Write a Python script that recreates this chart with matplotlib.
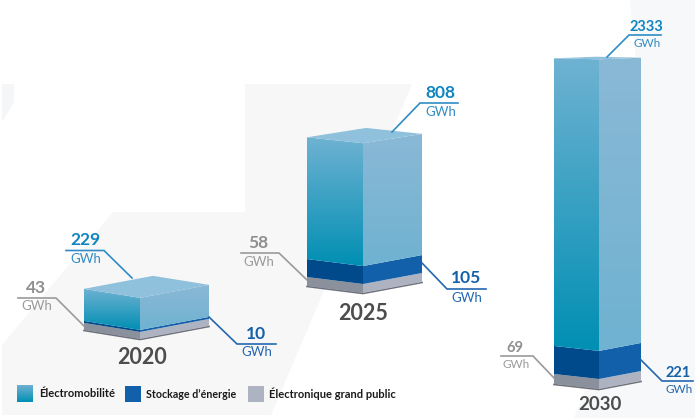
import numpy as np
import matplotlib
matplotlib.use("Agg")
import matplotlib.pyplot as plt
from matplotlib.colors import LinearSegmentedColormap
from matplotlib.patches import Polygon

plt.rcParams['font.family'] = ['Lato', 'DejaVu Sans']

years = ['2020', '2025', '2030']
electro = [229, 808, 2333]
stockage = [10, 105, 221]
grand_public = [43, 58, 69]
unit = 'GWh'
legend_labels = ['Électromobilité', 'Stockage d’énergie', 'Électronique grand public']

# the blocks are not to one scale in the source, px per GWh by year
px_electro = [0.14, 0.152, 0.125]
px_stockage = [0.2, 0.171, 0.127]
px_grand = [0.165, 0.155, 0.145]

# bottom corners of each block: left, front, right (x, y in pixels)
corners = [
    [(84, 330), (140, 339), (209, 326)],
    [(307, 286), (363, 293), (422, 282)],
    [(554, 384), (599, 389), (641, 381)],
]
# the top face flattens as the block gets taller
top_squash = [1.0, 0.85, 0.2]

c_electro = '#0f86c0'
c_stock = '#1560a8'
c_grey = '#8f8f8f'

fig = plt.figure(figsize=(6.95, 4.18), dpi=100)
ax = fig.add_axes([0, 0, 1, 1])
ax.set_axis_off()


def layer(c, h0, h1, left, right):
    l, f, r = c
    ax.fill([l[0], f[0], f[0], l[0]], [l[1]-h0, f[1]-h0, f[1]-h1, l[1]-h1], color=left, lw=0, zorder=3)
    ax.fill([f[0], r[0], r[0], f[0]], [f[1]-h0, r[1]-h0, r[1]-h1, f[1]-h1], color=right, lw=0, zorder=3)


def gradient(pts, c_top, c_bot):
    cmap = LinearSegmentedColormap.from_list('g', [c_top, c_bot])
    xs = [p[0] for p in pts]
    ys = [p[1] for p in pts]
    im = ax.imshow(np.linspace(0, 1, 256).reshape(-1, 1), cmap=cmap, aspect='auto', origin='upper',
                   extent=(min(xs), max(xs), max(ys), min(ys)), zorder=3)
    clip = Polygon(pts, transform=ax.transData, fc='none', ec='none')
    ax.add_patch(clip)
    im.set_clip_path(clip)


# background shapes
ax.add_patch(Polygon([(245, 84), (412, 84), (271, 415), (2, 415), (2, 345), (113, 212), (245, 212)],
                     fc='#f7f7f7', ec='none', zorder=1))
ax.add_patch(Polygon([(630, 0), (695, 0), (695, 418), (574, 418), (640, 250), (640, 100)],
                     fc='#f7f8f9', ec='none', zorder=1))
ax.add_patch(Polygon([(2, 84), (14, 84), (14, 102), (2, 122)], fc='#f5f6f8', ec='none', zorder=1))

for i in range(len(years)):
    c = corners[i]
    l, f, r = c
    h1 = grand_public[i] * px_grand[i]
    h2 = h1 + stockage[i] * px_stockage[i]
    h3 = h2 + electro[i] * px_electro[i]

    # shadow edge under the block
    ax.plot([l[0], f[0], r[0]], [l[1]+0.5, f[1]+0.5, r[1]+0.5], color='#6d7079', lw=1.2, zorder=2)
    layer(c, 0, h1, '#8a909c', '#adb3c0')
    layer(c, h1, h2, '#004a8b', '#1260aa')

    # top edge of the electro part, with the flatter top face
    yf = f[1] - h3
    yl = yf + (l[1] - f[1]) * top_squash[i]
    yr = yf + (r[1] - f[1]) * top_squash[i]
    gradient([(l[0], l[1]-h2), (f[0], f[1]-h2), (f[0], yf), (l[0], yl)], '#6fb2d2', '#008fb3')
    gradient([(f[0], f[1]-h2), (r[0], r[1]-h2), (r[0], yr), (f[0], yf)], '#8ab9d6', '#6fb2d1')

    back = (l[0]+r[0]-f[0], yl+yr-yf)
    ax.add_patch(Polygon([(l[0], yl), (f[0], yf), (r[0], yr), back],
                         fc='#8fc0dc', ec='none', zorder=3))

# labels: year position, then the three call-outs
year_pos = [(142, 358), (363, 313), (600, 404)]
year_size = [15.5, 15.5, 13.5]
for i in range(3):
    ax.text(year_pos[i][0], year_pos[i][1], years[i], fontsize=year_size[i], fontweight='bold',
            color='#4d4d4d', ha='center', va='center', zorder=5)

top_lines = [[(132, 278), (104, 250.5), (66, 250.5)],
             [(392, 132), (420, 103), (458, 103)],
             [(607, 57), (629, 35), (661, 35)]]
grey_lines = [[(84, 326), (56, 298), (18, 298)],
              [(307, 280), (279, 253), (241, 253)],
              [(554, 378), (533, 356), (501, 356)]]
side_lines = [[(209, 317), (237, 344), (276, 344)],
              [(422, 263), (447, 289), (486, 289)],
              [(641, 360), (662, 381), (693, 381)]]

num_size = [12.5, 12.5, 10.5]
gwh_size = [9.5, 9.5, 8.5]


def callout(line, value, x, y, color, color2, i):
    ax.plot([p[0] for p in line], [p[1] for p in line], color=color2, lw=1.2, zorder=4,
            solid_joinstyle='miter')
    ax.text(x, y, str(value), fontsize=num_size[i], fontweight='bold', color=color,
            ha='center', va='center', zorder=5)
    ax.text(x + 1, line[-1][1] + 8.5, unit, fontsize=gwh_size[i], color=color2,
            ha='center', va='center', zorder=5)


top_xy = [(85, 240), (440, 93), (646, 27)]
grey_xy = [(36, 288), (258, 243), (515, 348)]
side_xy = [(256, 334), (466, 278), (678, 373)]
for i in range(3):
    callout(top_lines[i], electro[i], top_xy[i][0], top_xy[i][1], c_electro, '#2f8cc4', i)
    callout(grey_lines[i], grand_public[i], grey_xy[i][0], grey_xy[i][1], c_grey, '#9a9a9a', i)
    callout(side_lines[i], stockage[i], side_xy[i][0], side_xy[i][1], c_stock, '#2467b0', i)

# legend
gradient([(17, 385), (33, 385), (33, 402), (17, 402)], '#6fb2d2', '#008fb3')
ax.add_patch(Polygon([(125, 386), (141, 386), (141, 402), (125, 402)], fc='#1260aa', ec='none', zorder=3))
ax.add_patch(Polygon([(248, 386), (264, 386), (264, 402), (248, 402)], fc='#adb3c0', ec='none', zorder=3))
for x, y, s, fs in zip([39, 146, 269], [393.5, 394.5, 393.5], legend_labels, [8, 7.7, 8]):
    ax.text(x, y, s, fontsize=fs, fontweight='bold', color='#1a1a1a', ha='left', va='center', zorder=5)

ax.set_xlim(0, 695)
ax.set_ylim(418, 0)

fig.savefig('out.png', dpi=100)
